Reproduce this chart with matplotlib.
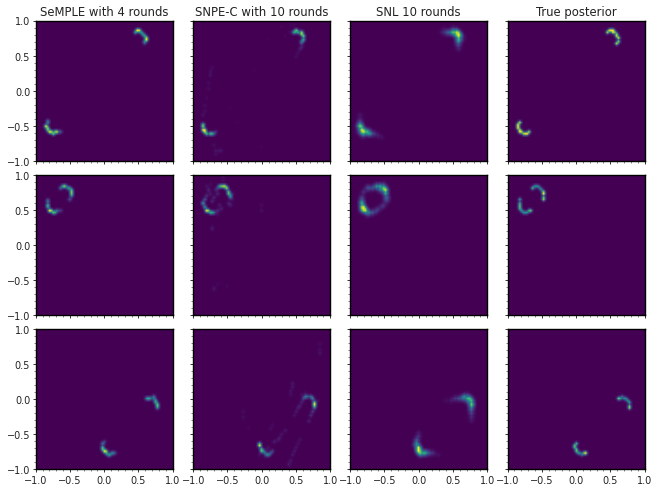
import numpy as np
import matplotlib
matplotlib.use("Agg")
from matplotlib import pyplot as plt
from matplotlib.ticker import MultipleLocator

titles = ["SeMPLE with 4 rounds", "SNPE-C with 10 rounds", "SNL 10 rounds", "True posterior"]
ticks = [-1.0, -0.5, 0.0, 0.5, 1.0]
n_bins = 75

# (x, y, relative density), one list per panel

# row 1
semple_1 = [(.45,.84,.55),(.48,.85,.85),(.51,.85,.7),(.54,.83,.5),(.57,.81,.5),(.59,.78,.55),(.61,.75,.6),
            (.615,.72,.8),(.60,.69,.45),(.595,.66,.15),(-.83,-.42,.2),(-.84,-.46,.45),(-.845,-.50,1.0),
            (-.835,-.54,.6),(-.82,-.565,.55),(-.795,-.59,.8),(-.77,-.60,.6),(-.74,-.605,.7),(-.71,-.60,.5),
            (-.68,-.60,.8),(-.65,-.60,.3)]
snpe_1 = [(.45,.84,.15),(.48,.84,.7),(.51,.85,.8),(.54,.835,.7),(.575,.815,.75),(.595,.79,.8),(.61,.76,.85),
          (.61,.73,.7),(.60,.70,.45),(.59,.66,.2),(.575,.62,.12),(.56,.59,.1),(.53,.53,.06),(.50,.47,.06),
          (.39,.84,.03),(.34,.78,.03),(.30,.92,.03),(.42,.94,.03),(.48,.93,.03),(.12,.72,.02),
          (-.85,-.47,.55),(-.865,-.52,.85),(-.85,-.55,.9),(-.84,-.57,.8),(-.815,-.59,.75),(-.79,-.605,.8),
          (-.76,-.615,.7),(-.73,-.615,.5),(-.70,-.605,.3),(-.665,-.59,.15),
          (-.72,.33,.05),(-.735,.27,.06),(-.755,.21,.07),(-.77,.12,.05),(-.78,.02,.05),(-.80,-.1,.04),
          (-.815,-.21,.05),(-.83,-.28,.05),(-.85,-.355,.07),(-.68,-.78,.06),(-.66,-.85,.08),(-.62,-.86,.06),
          (-.585,-.85,.06),(-.67,-.9,.05),(-.35,-.45,.02),(-.45,-.25,.02),(-.1,.3,.02),(.0,-.8,.02)]
snl_1 = [(.34,.83,.1),(.39,.84,.15),(.43,.84,.25),(.47,.84,.4),(.51,.83,.6),(.55,.82,.8),(.58,.80,1.0),
         (.59,.77,.85),(.60,.73,.6),(.60,.69,.35),(.60,.65,.2),(.60,.60,.1),(.50,.87,.15),(.55,.86,.2),
         (.50,.79,.12),(.54,.78,.2),(.63,.78,.15),(.64,.72,.12),(.56,.70,.1),(.57,.65,.05),(.38,.88,.04),
         (.44,.80,.08),
         (-.86,-.36,.08),(-.86,-.42,.2),(-.865,-.47,.4),(-.85,-.52,.65),(-.83,-.56,1.0),(-.80,-.59,.85),
         (-.76,-.60,.6),(-.72,-.61,.45),(-.68,-.61,.3),(-.63,-.62,.18),(-.58,-.63,.1),(-.54,-.66,.05),
         (-.89,-.52,.2),(-.89,-.58,.15),(-.84,-.61,.3),(-.80,-.63,.2),(-.82,-.51,.3),(-.78,-.55,.2),(-.72,-.57,.1)]
true_1 = [(.445,.835,.9),(.47,.845,.75),(.495,.85,.9),(.52,.85,.95),(.545,.84,.7),(.565,.815,.6),(.58,.79,.65),
          (.595,.765,.8),(.605,.735,.95),(.605,.70,.8),(.595,.67,.9),
          (-.83,-.45,.9),(-.85,-.48,.75),(-.855,-.51,.9),(-.845,-.54,.8),(-.835,-.56,.75),(-.815,-.58,.85),
          (-.795,-.60,.7),(-.77,-.61,.7),(-.747,-.61,.8),(-.715,-.605,.85),(-.684,-.595,.9)]

# row 2
semple_2 = [(-.645,.80,.35),(-.62,.815,.35),(-.6,.825,.35),(-.575,.83,.35),(-.547,.825,.3),(-.525,.805,.4),
            (-.51,.795,.45),(-.49,.765,.5),(-.475,.737,.55),(-.47,.71,.5),(-.475,.69,.45),(-.495,.65,.3),
            (-.83,.64,.12),(-.83,.605,.4),(-.84,.557,.55),(-.825,.525,.5),(-.795,.49,1.0),(-.77,.47,.5),
            (-.74,.457,.6),(-.71,.46,.45),(-.683,.476,.4),(-.645,.49,.2)]
snpe_2 = [(-.845,.577,.6),(-.84,.54,.55),(-.83,.65,.3),(-.805,.49,1.0),(-.78,.47,.5),(-.757,.457,.5),(-.72,.45,.4),
          (-.683,.457,.35),(-.65,.47,.15),(-.64,.80,.2),(-.61,.823,.45),(-.585,.835,.5),(-.56,.838,.55),
          (-.53,.82,.7),(-.503,.79,.85),(-.485,.755,.6),(-.474,.728,.55),(-.464,.69,.45),(-.464,.67,.3),
          (-.78,.765,.12),(-.805,.695,.15),(-.76,.72,.08),(-.71,.624,.12),(-.68,.66,.12),(-.635,.724,.12),
          (-.66,.76,.1),(-.42,.724,.08),(-.42,.65,.06),(-.49,.58,.1),(-.45,.55,.1),(-.585,.51,.1),(-.62,.57,.08),
          (-.56,.955,.05),(-.55,.91,.04),(-.71,.25,.06),(-.72,.22,.05),(0,.55,.04),(.01,.49,.05),
          (-.7,-.62,.05),(-.7,-.65,.04),(-.63,-.57,.03),(-.5,-.6,.03),(-.8,.82,.06),(-.75,.85,.04),(-.65,.42,.05)]
snl_2 = [(-.81,.51,1.0),(-.833,.58,.6),(-.825,.677,.25),(-.80,.74,.18),(-.76,.794,.18),(-.71,.805,.2),
         (-.664,.808,.3),(-.61,.815,.5),(-.566,.825,.6),(-.52,.81,.8),(-.493,.78,1.0),(-.478,.724,.65),
         (-.493,.628,.25),(-.51,.57,.15),(-.54,.53,.15),(-.614,.477,.22),(-.66,.465,.3),(-.712,.463,.4),
         (-.785,.477,.85),(-.83,.54,.6),(-.84,.62,.35),(-.46,.68,.25),(-.465,.62,.12),(-.79,.53,.4),
         (-.55,.78,.4),(-.52,.85,.2),(-.83,.47,.3),(-.75,.44,.2),(-.58,.50,.12),(-.62,.84,.1),(-.75,.83,.06)]
true_2 = [(-.64,.803,.95),(-.615,.82,.5),(-.585,.832,.5),(-.555,.825,.55),(-.528,.808,.6),(-.505,.78,.65),
          (-.489,.756,.75),(-.475,.73,.8),(-.47,.708,.85),(-.478,.675,.8),(-.489,.65,1.0),
          (-.815,.628,.8),(-.83,.60,.7),(-.84,.566,.7),(-.835,.535,.7),(-.82,.51,.75),(-.795,.485,.75),
          (-.77,.462,.55),(-.745,.457,.5),(-.723,.462,.55),(-.695,.475,.7),(-.67,.49,.9)]

# row 3
semple_3 = [(.606,0,.4),(.64,.005,.5),(.67,.012,.45),(.708,.02,.4),(.73,0,.35),(.742,-.017,.45),(.755,-.045,.55),
            (.766,-.073,.6),(.775,-.105,.55),(.78,-.14,.4),
            (-.012,-.605,.2),(-.02,-.64,.45),(-.027,-.68,.6),(-.015,-.71,.6),(.002,-.737,1.0),(.02,-.76,.5),
            (.036,-.785,.5),(.06,-.80,.45),(.085,-.80,.45),(.11,-.785,.4),(.134,-.77,.35),(.16,-.77,.15)]
snpe_3 = [(-.026,-.63,.45),(-.015,-.675,1.0),(-.01,-.71,.6),(0,-.738,.5),(.02,-.76,.4),(.047,-.785,.4),(.08,-.795,.4),
          (.11,-.80,.35),(.14,-.785,.3),(.169,-.76,.2),(.607,-.012,.25),(.64,.015,.35),(.68,.03,.35),(.715,.02,.4),
          (.745,0,.5),(.77,-.04,.55),(.783,-.073,.9),(.775,-.11,.5),(.764,-.145,.3),(.75,-.19,.2),(.73,-.24,.15),
          (.695,-.31,.1),(.584,-.05,.12),(.56,-.095,.1),(.535,-.145,.1),(.51,-.19,.08),(.486,-.24,.06),
          (.46,.21,.07),(.45,.16,.07),(.438,.116,.06),(.414,.05,.05),(.194,-.62,.1),(.23,-.585,.08),(.267,-.547,.08),
          (.30,-.50,.07),(.34,-.453,.07),(.145,-.43,.05),(.17,-.37,.04),(.413,-.93,.1),(.43,-.87,.08),(.461,-.81,.08),
          (.485,-.75,.08),(.51,-.69,.07),(.535,-.64,.06),(.56,-.595,.06),(-.27,-.19,.05),(-.26,-.26,.05),
          (-.18,-.43,.03),(.845,.78,.05),(.845,.70,.05),(.845,.64,.06),(.58,.06,.05),(.65,.09,.05),(.83,-.02,.05),
          (.07,-.72,.06),(.12,-.68,.05),(-.03,-.80,.06),(.06,-.84,.05)]
snl_3 = [(.41,-.035,.06),(.47,-.02,.12),(.53,-.007,.2),(.58,.005,.3),(.63,.012,.4),(.67,.015,.5),(.71,.012,.6),
         (.74,-.01,.7),(.76,-.035,.8),(.77,-.075,.8),(.775,-.12,.6),(.775,-.17,.4),(.775,-.216,.25),(.77,-.27,.15),
         (.76,-.33,.08),(.66,.04,.2),(.72,.05,.2),(.70,-.02,.15),(.73,-.06,.2),(.80,-.09,.2),(.74,-.15,.1),
         (-.005,-.477,.08),(-.012,-.54,.2),(-.015,-.595,.4),(-.015,-.65,.7),(-.01,-.69,.9),(0,-.73,1.0),(.01,-.76,1.0),
         (.04,-.77,.75),(.068,-.775,.7),(.115,-.78,.55),(.165,-.78,.35),(.22,-.785,.2),(.287,-.795,.08),(-.04,-.66,.2),
         (.03,-.80,.3),(.10,-.75,.12),(.03,-.68,.12)]
true_3 = [(.617,0,.95),(.65,.012,.65),(.68,.02,.5),(.705,.01,.5),(.73,-.007,.6),(.755,-.035,.7),(.778,-.064,.8),
          (.785,-.10,.85),(.778,-.145,1.0),
          (-.007,-.63,.95),(-.015,-.665,.85),(-.02,-.70,.8),(-.005,-.73,.8),(.007,-.752,.85),(.03,-.772,.7),
          (.056,-.785,.55),(.08,-.79,.55),(.105,-.785,.7),(.125,-.775,.8),(.144,-.766,.95)]

rows = [[semple_1, snpe_1, snl_1, true_1],
        [semple_2, snpe_2, snl_2, true_2],
        [semple_3, snpe_3, snl_3, true_3]]

W, H = 652, 485
col_left = [35.7, 193.2, 350.2, 507.5]
row_top = [21.5, 175.7, 329.7]
ax_w, ax_h = 137.0, 140.5

# smoothing of the 2d histogram, wider for the blurry SNL column
kernels = [[1, 3, 1], [1, 3, 1], [1, 3, 6, 3, 1], [1, 4, 1]]
# share of the panel's peak that reaches the top of the colormap
peak = [0.95, 0.95, 0.85, 0.8]


def smooth(hist, kernel):
    k = np.array(kernel, dtype=float)
    k = k / k.sum()
    out = np.apply_along_axis(lambda v: np.convolve(v, k, mode="same"), 0, hist)
    return np.apply_along_axis(lambda v: np.convolve(v, k, mode="same"), 1, out)


fig = plt.figure(figsize=(W / 100, H / 100), dpi=100)

for r, row in enumerate(rows):
    for c, panel in enumerate(row):
        ax = fig.add_axes([col_left[c] / W, 1 - (row_top[r] + ax_h) / H, ax_w / W, ax_h / H])
        xs, ys, ws = zip(*panel)
        hist, _, _ = np.histogram2d(xs, ys, bins=n_bins, range=[[-1, 1], [-1, 1]], weights=ws)
        hist = smooth(hist, kernels[c])
        ax.imshow(hist.T, origin="lower", extent=(-1, 1, -1, 1), aspect="auto", cmap="viridis",
                  interpolation="bilinear", vmin=0, vmax=hist.max() * peak[c])
        ax.set_xticks(ticks)
        ax.set_yticks(ticks)
        ax.xaxis.set_minor_locator(MultipleLocator(0.1))
        ax.yaxis.set_minor_locator(MultipleLocator(0.1))
        ax.tick_params(which="major", length=2.5, width=0.7, labelsize=7, pad=1.5, color="#333333", labelcolor="#222222")
        ax.tick_params(which="minor", length=1.4, width=0.5, color="#555555")
        ax.tick_params(labelleft=c == 0, labelbottom=r == 2)
        for s in ax.spines.values():
            s.set_linewidth(1.0)
        if r == 0:
            ax.set_title(titles[c], fontsize=8.4, pad=4, color="#222222")

fig.savefig("out.png", dpi=100)
